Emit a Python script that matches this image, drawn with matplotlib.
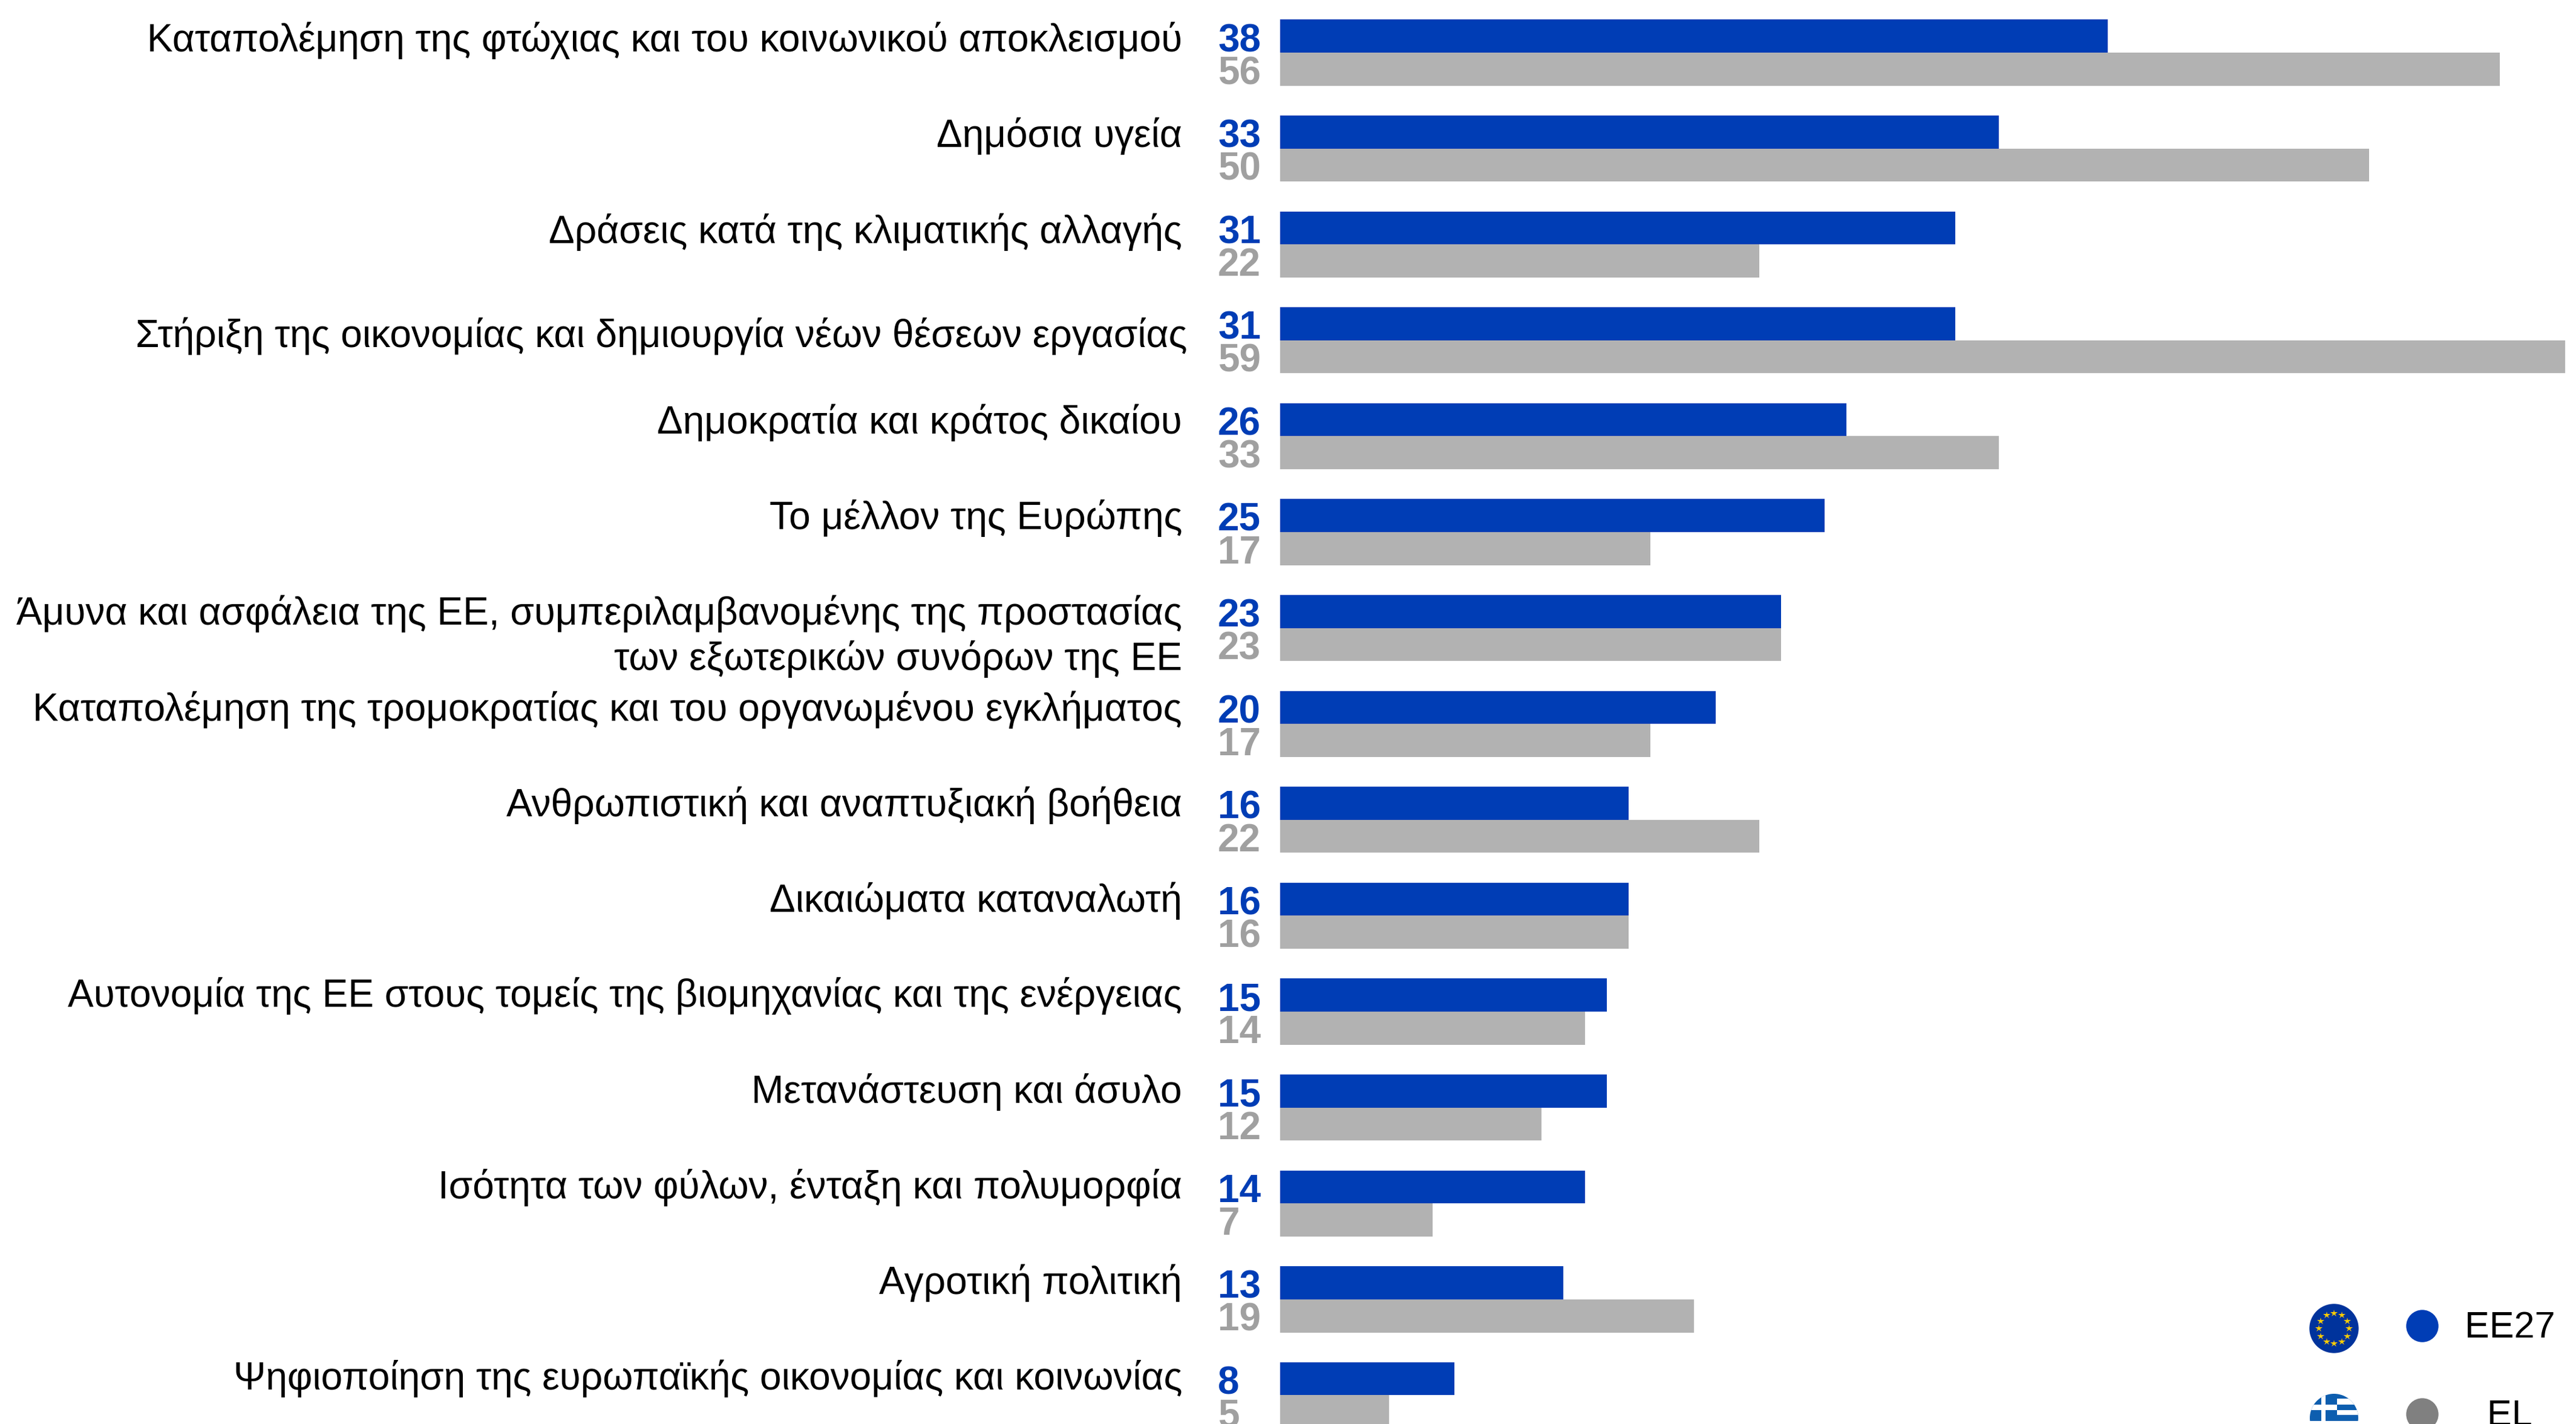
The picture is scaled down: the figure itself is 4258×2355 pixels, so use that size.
import numpy as np
import matplotlib
matplotlib.use("Agg")
import matplotlib.pyplot as plt
from matplotlib.patches import Circle, Rectangle

plt.rcParams['font.family'] = ['Liberation Sans', 'DejaVu Sans']

W, H = 4258, 2355

labels = [
    "Καταπολέμηση της φτώχιας και του κοινωνικού αποκλεισμού",
    "Δημόσια υγεία",
    "Δράσεις κατά της κλιματικής αλλαγής",
    "Στήριξη της οικονομίας και δημιουργία νέων θέσεων εργασίας",
    "Δημοκρατία και κράτος δικαίου",
    "Το μέλλον της Ευρώπης",
    "Άμυνα και ασφάλεια της ΕΕ, συμπεριλαμβανομένης της προστασίας\nτων εξωτερικών συνόρων της ΕΕ",
    "Καταπολέμηση της τρομοκρατίας και του οργανωμένου εγκλήματος",
    "Ανθρωπιστική και αναπτυξιακή βοήθεια",
    "Δικαιώματα καταναλωτή",
    "Αυτονομία της ΕΕ στους τομείς της βιομηχανίας και της ενέργειας",
    "Μετανάστευση και άσυλο",
    "Ισότητα των φύλων, ένταξη και πολυμορφία",
    "Αγροτική πολιτική",
    "Ψηφιοποίηση της ευρωπαϊκής οικονομίας και κοινωνίας",
]
eu_values = [38, 33, 31, 31, 26, 25, 23, 20, 16, 16, 15, 15, 14, 13, 8]
el_values = [56, 50, 22, 59, 33, 17, 23, 17, 22, 16, 14, 12, 7, 19, 5]

BLUE = "#003db5"
BAR_GREY = "#b2b2b2"
NUM_GREY = "#a0a0a0"
FLAG_BLUE = "#0d5eaf"

fig = plt.figure(figsize=(W / 100, H / 100), dpi=100)

# axes run off the right and bottom edge of the picture, like the original crop
pitch = 158.6
bar_h = 54.7 / pitch
ax = fig.add_axes([2116 / W, 0, 1 - 2116 / W, 1])
ax.set_xlim(0, (W - 2116) / 36.0)
ax.set_ylim((H - 87) / pitch, -87 / pitch)
ax.axis("off")

y = np.arange(len(labels))
ax.barh(y - bar_h / 2, eu_values, height=bar_h, color=BLUE)
ax.barh(y + bar_h / 2, el_values, height=bar_h, color=BAR_GREY)

for i, lab in enumerate(labels):
    dx, dy = (8, -14) if i == 3 else (0, 0)
    # the labels drift up a little against the bars going down the list
    ax.annotate(lab, (0, i), xytext=(-162 + dx, 51 + dy + i * 0.55), xycoords="data",
                textcoords="offset pixels", ha="right", va="top", fontsize=46.1,
                color="black", linespacing=1.25, annotation_clip=False)
    ax.annotate(str(eu_values[i]), (0, i), xytext=(-103, 19), textcoords="offset pixels",
                ha="left", va="center", fontsize=46, fontweight="bold", color=BLUE,
                annotation_clip=False)
    ax.annotate(str(el_values[i]), (0, i), xytext=(-103, -35), textcoords="offset pixels",
                ha="left", va="center", fontsize=46, fontweight="bold", color=NUM_GREY,
                annotation_clip=False)

# legend, drawn in pixel space
leg = fig.add_axes([0, 0, 1, 1])
leg.set_xlim(0, W)
leg.set_ylim(H, 0)
leg.axis("off")
leg.patch.set_alpha(0)

leg.add_patch(Circle((3858, 2197), 40, color="#00339c"))
for a in np.arange(12) * np.pi / 6:
    leg.plot(3858 + 25 * np.cos(a), 2197 + 25 * np.sin(a), marker="*", ms=9, color="#ffcc00", mew=0)
leg.add_patch(Circle((4004, 2193), 26, color=BLUE))
leg.text(4074, 2196, "EE27", fontsize=44, va="center", ha="left", color="black")

# greek flag, cut off by the picture's lower part
flag = Circle((3858, 2345), 40, color="white")
leg.add_patch(flag)
flag_parts = [
    ((3818, 2305), 80, 45, FLAG_BLUE),
    ((3863, 2313), 35, 10, "white"),
    ((3863, 2332), 35, 8, "white"),
    ((3837, 2305), 7, 45, "white"),
    ((3818, 2323), 45, 9, "white"),
]
for xy, w, h, col in flag_parts:
    p = Rectangle(xy, w, h, color=col, lw=0)
    leg.add_patch(p)
    p.set_clip_path(flag)
leg.add_patch(Circle((4004, 2339), 26, color="#808080"))
leg.text(4111, 2342, "EL", fontsize=44, va="center", ha="left", color="black")

fig.savefig("out.png", dpi=100, facecolor="white")
